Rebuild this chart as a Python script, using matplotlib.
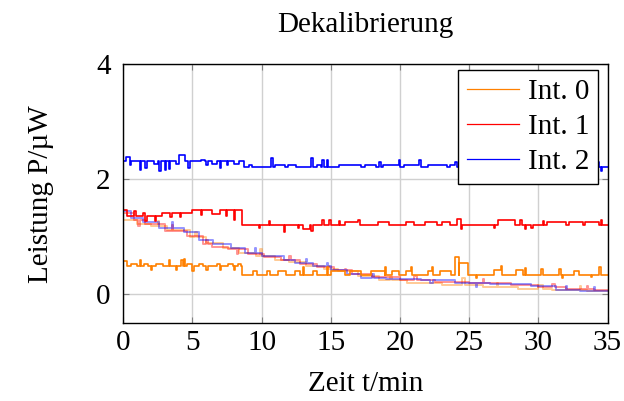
import bisect

import matplotlib
matplotlib.use('Agg')
import matplotlib.pyplot as plt

# ==== Daten ====
# jede Reihe: Stufen (Zeit, Niveau) + kurze Ereignisse (Start, Dauer, Wert)

T_END = 35.0

# Int. 0 (orange)
int0_t = [0.0, 0.3, 8.6]
int0_v = [0.58, 0.49, 0.34]
int0_ev = [
    (0.6, 0.4, 0.53), (1.2, 0.1, 0.6), (1.5, 0.3, 0.53), (2.0, 0.1, 0.42), (2.4, 0.5, 0.53),
    (3.3, 0.1, 0.6), (3.8, 0.1, 0.42), (4.2, 0.1, 0.6), (4.4, 0.1, 0.62), (4.6, 0.4, 0.53),
    (5.0, 0.1, 0.41), (5.5, 0.3, 0.53), (6.0, 0.1, 0.42), (6.8, 0.5, 0.53), (7.0, 0.1, 0.42),
    (7.6, 0.3, 0.53), (8.0, 0.1, 0.42), (8.3, 0.2, 0.53),
    (9.4, 0.3, 0.41), (10.4, 0.2, 0.41), (11.2, 0.6, 0.41), (12.4, 0.4, 0.41), (13.0, 0.1, 0.47),
    (13.7, 0.3, 0.41), (14.7, 0.1, 0.48), (15.0, 1.0, 0.41), (16.4, 0.8, 0.41), (17.9, 1.0, 0.41),
    (18.9, 0.1, 0.48), (19.4, 0.5, 0.41), (20.4, 1.2, 0.41), (20.8, 0.1, 0.48), (22.0, 0.6, 0.41),
    (22.3, 0.1, 0.48), (22.9, 0.8, 0.41), (24.0, 0.3, 0.65), (24.3, 0.6, 0.55), (25.5, 0.1, 0.28),
    (26.8, 1.2, 0.43), (27.3, 0.1, 0.49), (28.4, 0.5, 0.42), (29.0, 0.1, 0.46), (30.2, 0.1, 0.44),
    (31.5, 0.1, 0.44), (31.7, 0.1, 0.28), (32.6, 0.3, 0.41), (33.8, 0.1, 0.3), (34.4, 0.1, 0.48),
]

# Int. 1 (rot)
int1_t = [0.0, 0.3, 2.8, 5.0, 6.4, 7.0, 8.6]
int1_v = [1.46, 1.36, 1.42, 1.46, 1.39, 1.46, 1.21]
int1_ev = [
    (0.8, 0.1, 1.45), (1.4, 0.3, 1.42), (1.6, 0.1, 1.28), (2.3, 0.1, 1.28), (3.4, 0.1, 1.35),
    (4.1, 0.1, 1.35), (5.6, 0.1, 1.38), (7.4, 0.1, 1.36), (8.0, 0.1, 1.3),
    (9.8, 0.1, 1.15), (10.5, 0.1, 1.28), (11.6, 0.1, 1.08), (12.6, 0.1, 1.15), (13.0, 0.5, 1.14),
    (13.6, 0.1, 1.1), (14.4, 0.1, 1.3), (14.9, 0.1, 1.3), (15.6, 0.1, 1.28), (16.0, 1.4, 1.25),
    (17.0, 0.1, 1.3), (18.4, 0.8, 1.25), (20.4, 0.6, 1.25), (21.8, 0.9, 1.25), (23.0, 0.6, 1.25),
    (24.1, 0.5, 1.31), (24.4, 0.1, 1.14), (26.8, 0.1, 1.15), (27.1, 1.2, 1.3), (28.7, 0.1, 1.3),
    (29.0, 0.1, 1.14), (29.5, 0.1, 1.15), (30.3, 0.1, 1.28), (30.6, 1.4, 1.25), (32.2, 1.0, 1.25),
    (33.4, 1.0, 1.25), (34.5, 0.1, 1.3),
]

# Int. 2 (blau)
int2_t = [0.0, 8.7]
int2_v = [2.31, 2.21]
int2_ev = [
    (0.2, 0.3, 2.38), (0.5, 0.1, 2.25), (1.2, 0.1, 2.16), (1.6, 0.1, 2.2), (2.2, 0.3, 2.26),
    (2.6, 0.1, 2.15), (3.0, 0.1, 2.16), (3.3, 0.1, 2.18), (3.8, 0.2, 2.27), (4.0, 0.5, 2.42),
    (4.7, 0.1, 2.2), (5.6, 0.3, 2.34), (6.0, 0.1, 2.24), (6.4, 0.4, 2.27), (7.0, 0.1, 2.2),
    (7.5, 0.1, 2.25), (8.0, 0.4, 2.27),
    (9.1, 0.2, 2.25), (10.7, 0.1, 2.37), (11.0, 0.7, 2.25), (11.9, 0.6, 2.25), (13.6, 0.1, 2.37),
    (14.0, 0.3, 2.25), (14.4, 0.1, 2.33), (14.7, 0.1, 2.33), (15.6, 1.6, 2.25), (17.5, 0.8, 2.25),
    (18.5, 0.1, 2.3), (18.8, 1.3, 2.25), (19.9, 0.1, 2.33), (20.3, 1.5, 2.25), (21.4, 0.1, 2.33),
    (22.0, 1.4, 2.25), (23.6, 0.6, 2.25), (24.0, 0.1, 2.3), (25.3, 0.1, 2.3), (34.3, 0.1, 2.3),
    (34.5, 0.1, 2.15),
]

# Vorher-Messung (blass)
fade0_t = [0.0, 1.0, 2.0, 3.2, 4.8, 6.0, 7.2, 8.4, 9.6, 11.0, 12.0, 13.2, 14.5, 15.5, 17.0, 18.5,
           20.5, 23.0, 26.0, 28.5, 31.0, 33.5]
fade0_v = [1.3, 1.22, 1.18, 1.12, 1.0, 0.9, 0.8, 0.72, 0.66, 0.6, 0.56, 0.5, 0.44, 0.4, 0.32, 0.25,
           0.2, 0.16, 0.12, 0.1, 0.07, 0.05]
fade0_ev = [(2.5, 0.1, 1.28), (5.2, 0.1, 1.08), (9.9, 0.1, 0.78), (14.8, 0.1, 0.5), (19.3, 0.1, 0.3),
            (24.5, 0.2, 0.28), (27.0, 0.1, 0.2), (30.0, 0.3, 0.16), (33.0, 0.1, 0.14)]

fade1_t = [0.0, 0.8, 1.6, 3.0, 4.6, 5.8, 6.4, 7.6, 9.0, 10.2, 11.4, 12.8, 14.0, 15.2, 16.5, 18.0,
           20.0, 22.5, 25.0, 28.0, 30.0, 32.0, 34.0]
fade1_v = [1.42, 1.3, 1.22, 1.1, 1.02, 0.88, 0.82, 0.78, 0.7, 0.64, 0.6, 0.52, 0.47, 0.42, 0.36, 0.3,
           0.25, 0.22, 0.2, 0.16, 0.12, 0.1, 0.08]
fade1_ev = [(1.1, 0.1, 1.18), (3.5, 0.1, 1.2), (6.0, 0.1, 0.95), (8.2, 0.1, 0.7), (12.0, 0.1, 0.66),
            (16.0, 0.1, 0.44), (21.0, 0.2, 0.32), (26.0, 0.1, 0.26), (31.0, 0.2, 0.18), (33.5, 0.1, 0.14)]

fade2_t = [0.0, 0.6, 1.4, 2.6, 4.4, 5.5, 6.5, 7.8, 8.8, 10.0, 11.6, 12.4, 13.7, 15.0, 16.2, 17.2,
           19.0, 21.5, 24.0, 26.5, 29.5, 31.3, 33.0]
fade2_v = [1.45, 1.32, 1.25, 1.15, 1.08, 0.95, 0.88, 0.8, 0.72, 0.66, 0.6, 0.55, 0.5, 0.42, 0.36, 0.28,
           0.27, 0.25, 0.2, 0.18, 0.15, 0.08, 0.06]
fade2_ev = [(3.5, 0.1, 1.25), (9.5, 0.1, 0.8), (13.2, 0.1, 0.62), (14.7, 0.1, 0.55), (18.0, 0.1, 0.35),
            (22.2, 0.2, 0.2), (25.5, 0.1, 0.12), (32.0, 0.1, 0.15), (34.0, 0.1, 0.12)]

LABELS = ['Int. 0', 'Int. 1', 'Int. 2']
COLORS = ['#ff8000', '#ff0000', '#0000ff']
FS = 21


def build(step_t, step_v, events):
    """Stufen + Ereignisse zu einer Treppenkurve zusammensetzen"""
    def base(t):
        return step_v[max(bisect.bisect_right(step_t, t) - 1, 0)]

    pts = list(zip(step_t, step_v))
    for t0, w, v in events:
        pts.append((t0, v))
        pts.append((t0 + w, base(t0 + w)))
    pts.sort(key=lambda p: p[0])
    pts.append((T_END, base(T_END)))
    return [p[0] for p in pts], [p[1] for p in pts]


plt.rcParams['font.family'] = ['Liberation Serif', 'DejaVu Serif']

fig = plt.figure(figsize=(6.24, 4.01), dpi=100)
ax = fig.add_axes([0.1974, 0.1945, 0.7763, 0.6451])

# blasse Kurven zuerst
for (st, sv, ev), c in zip([(fade0_t, fade0_v, fade0_ev), (fade1_t, fade1_v, fade1_ev),
                            (fade2_t, fade2_v, fade2_ev)], COLORS):
    t, v = build(st, sv, ev)
    ax.plot(t, v, drawstyle='steps-post', color=c, alpha=0.42, lw=1.4)

for (st, sv, ev), c, lab in zip([(int0_t, int0_v, int0_ev), (int1_t, int1_v, int1_ev),
                                 (int2_t, int2_v, int2_ev)], COLORS, LABELS):
    t, v = build(st, sv, ev)
    ax.plot(t, v, drawstyle='steps-post', color=c, lw=1.2, label=lab)

ax.set_xlim(0, 35)
ax.set_ylim(-0.5, 4)
ax.set_xticks(range(0, 36, 5))
ax.set_yticks([0, 2, 4])
ax.grid(True, color='#d0d0d0', lw=1.0)
ax.set_axisbelow(True)
ax.tick_params(direction='in', top=True, right=True, length=4, color='#808080',
               labelsize=FS)
ax.tick_params(axis='x', pad=5)
ax.tick_params(axis='y', pad=9)
for s in ax.spines.values():
    s.set_linewidth(1.0)

ax.set_title('Dekalibrierung', fontsize=FS, pad=23)
ax.set_xlabel('Zeit t/min', fontsize=FS, labelpad=11)
ax.set_ylabel('Leistung P/µW', fontsize=FS, labelpad=30)

leg = ax.legend(loc='upper right', bbox_to_anchor=(598 / 624, 1 - 70 / 401),
                bbox_transform=fig.transFigure, fontsize=FS, frameon=True, fancybox=False,
                framealpha=1.0, edgecolor='black', handlelength=1.8, handletextpad=0.3,
                borderpad=0.3, labelspacing=0.3, borderaxespad=0.0)
leg.get_frame().set_linewidth(1.0)
for line in leg.get_lines():
    line.set_linewidth(0.9)

fig.savefig('out.png', dpi=100)
